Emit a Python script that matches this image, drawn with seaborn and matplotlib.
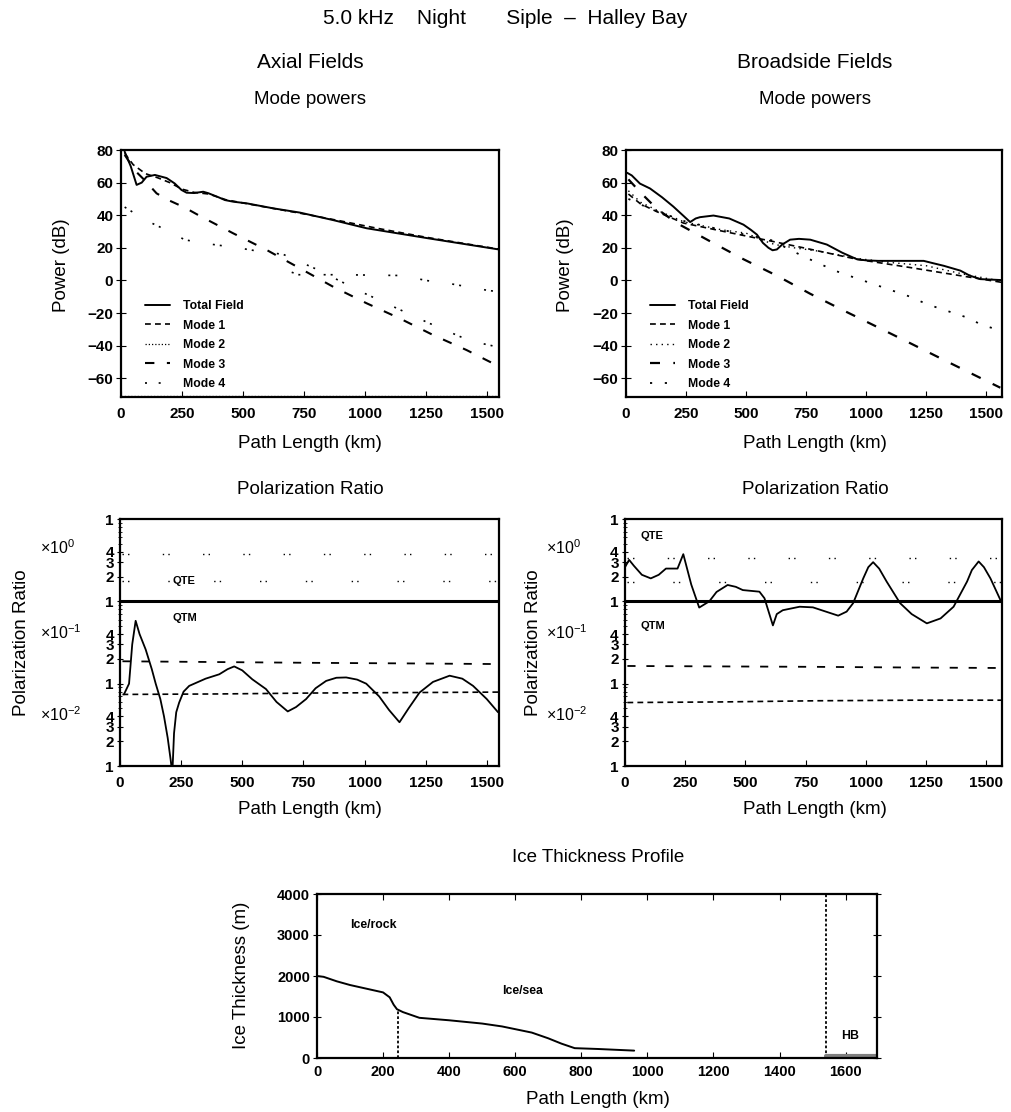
import matplotlib
matplotlib.use("Agg")
import matplotlib.pyplot as plt
import seaborn as sns
from matplotlib.ticker import FixedLocator, NullFormatter

# ---------------- data ----------------
# Axial mode powers (dB)
ax_tot_x = [15, 40, 64, 85, 105, 139, 187, 220, 248, 269, 300, 337, 358, 400, 426, 460, 515, 625, 734, 870, 1007, 1253, 1549]
ax_tot_y = [79, 70, 58.6, 60, 63.6, 64.7, 62.8, 59.5, 55.5, 53.8, 53.6, 54.4, 53.5, 51, 49.3, 48.3, 47.3, 44.2, 41.6, 37, 32, 26, 19]
ax_m1_x = [15, 50, 100, 150, 200, 250, 300, 360, 430, 500, 600, 750, 900, 1050, 1250, 1549]
ax_m1_y = [78, 71, 65.5, 63, 60, 56, 54, 53, 49.5, 47.5, 44.8, 40.8, 36.5, 32, 26.5, 19.2]
ax_m2_x = [0, 400, 800, 1200, 1550]
ax_m2_y = [-70.8, -70.8, -70.8, -70.8, -70.8]
ax_m3_x = [15, 60, 100, 146, 194, 260, 324, 460, 597, 734, 870, 1007, 1143, 1280, 1417, 1540]
ax_m3_y = [77, 67, 61, 53.4, 49.3, 44.8, 39.5, 28.9, 18.7, 7.4, -3.9, -14, -23.3, -33.5, -42.7, -52]
ax_m4a_x = [15, 100, 213, 260, 330, 480, 560, 665, 800, 1000, 1260, 1430, 1550]
ax_m4a_y = [45, 37, 29, 25, 23, 20, 18, 16, 7, -8, -26, -37, -41]
ax_m4b_x = [700, 730, 900, 1156, 1250, 1350, 1500, 1550]
ax_m4b_y = [5, 3.5, 3.5, 3, 0, -2, -6, -7]

# Broadside mode powers (dB)
bs_tot_x = [5, 24, 58, 100, 150, 197, 240, 267, 290, 308, 364, 430, 489, 520, 545, 570, 593, 610, 628, 650, 683, 720, 767, 836, 900, 961, 1000, 1050, 1150, 1239, 1280, 1322, 1392, 1430, 1475, 1565]
bs_tot_y = [66, 64.4, 59.4, 56.4, 51, 45.3, 39.5, 35.8, 38, 38.8, 39.8, 38, 34.2, 31, 28.1, 23, 20, 18.5, 19, 22, 25, 25.5, 25, 22, 17, 13, 12.3, 12, 12, 12, 10.5, 9, 6, 3, 0.8, 0.2]
bs_m1_x = [10, 60, 128, 239, 405, 572, 739, 961, 1183, 1392, 1565]
bs_m1_y = [53, 47, 42.2, 35.2, 30.1, 25.1, 20, 13, 7.9, 2.9, -1.2]
bs_m2_x = [10, 60, 130, 240, 400, 500, 580, 620, 700, 800, 961, 1100, 1250, 1400, 1565]
bs_m2_y = [55, 48, 43, 36, 31, 29, 24, 22, 20, 18, 13.5, 11, 9, 4, -0.5]
bs_m3_x = [10, 60, 128, 211, 350, 489, 628, 767, 905, 1045, 1183, 1322, 1461, 1558]
bs_m3_y = [62, 54, 44, 35.2, 24, 13, 2.9, -8.2, -18.4, -28.5, -38.5, -48.7, -58.8, -65.8]
bs_m4_x = [10, 100, 250, 400, 600, 740, 871, 940, 1045, 1183, 1253, 1433, 1475, 1565]
bs_m4_y = [50, 44, 36, 31, 25, 14.6, 5.9, 2.3, -3, -10, -14.6, -23.4, -27, -31]

# Axial polarization ratio
ap_tot_x = [16, 37, 50, 64, 80, 105, 130, 146, 165, 180, 195, 207, 214, 221, 230, 242, 260, 283, 350, 406, 440, 467, 500, 541, 597, 640, 686, 720, 761, 800, 843, 885, 925, 970, 1007, 1060, 1100, 1143, 1180, 1225, 1280, 1348, 1400, 1444, 1500, 1546]
ap_tot_y = [0.074, 0.10, 0.3, 0.58, 0.4, 0.26, 0.15, 0.10, 0.065, 0.04, 0.022, 0.012, 0.008, 0.025, 0.045, 0.059, 0.08, 0.094, 0.115, 0.13, 0.15, 0.162, 0.145, 0.113, 0.086, 0.06, 0.046, 0.052, 0.065, 0.088, 0.108, 0.118, 0.119, 0.112, 0.10, 0.07, 0.048, 0.034, 0.05, 0.078, 0.105, 0.125, 0.115, 0.094, 0.065, 0.045]
ap_d1_x = [10, 400, 800, 1200, 1550]
ap_d1_y = [0.187, 0.183, 0.179, 0.176, 0.173]
ap_d2_x = [10, 400, 800, 1200, 1550]
ap_d2_y = [0.074, 0.075, 0.077, 0.078, 0.079]
ap_q1_x = [10, 1550]
ap_q1_y = [3.8, 3.8]
ap_q2_x = [10, 1550]
ap_q2_y = [1.78, 1.78]

# Broadside polarization ratio
bp_tot_x = [0, 17, 37, 70, 107, 140, 170, 218, 242, 275, 308, 350, 380, 426, 460, 489, 558, 579, 614, 630, 655, 725, 780, 885, 920, 947, 989, 1010, 1030, 1055, 1086, 1142, 1190, 1253, 1310, 1364, 1420, 1440, 1468, 1490, 1517, 1561]
bp_tot_y = [2.6, 3.19, 2.7, 2.1, 1.9, 2.1, 2.5, 2.5, 3.74, 1.6, 0.84, 1.0, 1.3, 1.58, 1.5, 1.37, 1.31, 1.09, 0.51, 0.7, 0.78, 0.86, 0.845, 0.67, 0.75, 0.95, 1.9, 2.6, 2.99, 2.5, 1.74, 0.95, 0.7, 0.54, 0.62, 0.86, 1.74, 2.4, 3.05, 2.6, 1.9, 1.0]
bp_d1_x = [10, 400, 800, 1200, 1565]
bp_d1_y = [0.164, 0.162, 0.16, 0.157, 0.155]
bp_d2_x = [10, 400, 800, 1200, 1565]
bp_d2_y = [0.059, 0.060, 0.062, 0.063, 0.063]
bp_q1_x = [10, 1565]
bp_q1_y = [3.4, 3.4]
bp_q2_x = [10, 1565]
bp_q2_y = [1.7, 1.7]

# Ice thickness profile (m)
ice_x = [0, 20, 60, 100, 150, 200, 220, 232, 242, 260, 310, 400, 500, 560, 650, 700, 740, 780, 850, 960]
ice_y = [2000, 1980, 1870, 1780, 1690, 1600, 1480, 1300, 1190, 1120, 980, 920, 840, 770, 620, 480, 350, 240, 220, 180]
gl_x = [245, 245]
gl_y = [0, 1180]
hb_x = [1540, 1540]
hb_y = [0, 4000]
hbsea_x = [1540, 1700]
hbsea_y = [40, 40]
shelf_x = [380, 660]
shelf_y = [8, 8]

xt_power = [0, 250, 500, 750, 1000, 1250, 1500]
yt_power = [-60, -40, -20, 0, 20, 40, 60, 80]
pol_major = [0.01, 0.02, 0.03, 0.04, 0.1, 0.2, 0.3, 0.4, 1, 2, 3, 4, 10]
pol_labels = ["1", "2", "3", "4", "1", "2", "3", "4", "1", "2", "3", "4", "1"]
xt_ice = [0, 200, 400, 600, 800, 1000, 1200, 1400, 1600]
yt_ice = [0, 1000, 2000, 3000, 4000]

# ---------------- style ----------------
sns.set_style("ticks")
plt.rcParams["font.family"] = ["Liberation Sans", "DejaVu Sans"]
plt.rcParams["mathtext.fontset"] = "custom"
plt.rcParams["mathtext.rm"] = "Liberation Sans"
plt.rcParams["axes.linewidth"] = 1.6
for k in ["text.color", "axes.labelcolor", "xtick.color", "ytick.color", "axes.edgecolor"]:
    plt.rcParams[k] = "black"

W, H = 1011, 1112
fig = plt.figure(figsize=(W / 100, H / 100), dpi=100)


def px_axes(l, t, r, b):
    return fig.add_axes([l / W, 1 - b / H, (r - l) / W, (b - t) / H])


S_TOT = "-"
S_M1 = (0, (3.5, 2.5))
S_M2 = (0, (1, 1.6))
S_M3 = (0, (4.5, 6))
S_M4 = (0, (1.2, 7))
S_SPARSE = (0, (1, 3, 1, 16))


def line(ax, x, y, style, lw, label=None, color="black"):
    kw = dict(x=x, y=y, ax=ax, color=color, linestyle=style, linewidth=lw,
              estimator=None, sort=False)
    if label is not None:
        kw["label"] = label
    sns.lineplot(**kw)


def bold_ticks(ax):
    for t in ax.get_xticklabels() + ax.get_yticklabels():
        t.set_fontweight("bold")


def style_power(ax, xmax):
    ax.set_xlim(0, xmax)
    ax.set_ylim(-71.5, 80)
    ax.set_xticks(xt_power)
    ax.set_xticklabels([str(v) for v in xt_power])
    ax.set_yticks(yt_power)
    ax.set_yticklabels([str(v).replace("-", "\u2212") for v in yt_power])
    ax.tick_params(axis="x", direction="in", length=4, labelsize=11, pad=7)
    ax.tick_params(axis="y", direction="inout", length=7, labelsize=11, pad=2)
    ax.set_xlabel("")
    ax.set_ylabel("")
    bold_ticks(ax)
    for s in ax.spines.values():
        s.set_visible(True)


def legend(ax, handles_order):
    h, l = ax.get_legend_handles_labels()
    pairs = dict(zip(l, h))
    leg = ax.legend([pairs[k] for k in handles_order], handles_order,
                    loc="lower left", bbox_to_anchor=(0.045, 0.0), frameon=False,
                    prop={"weight": "bold", "size": 8.8}, handlelength=2.1,
                    handletextpad=1.0, labelspacing=0.62, borderaxespad=0.15)
    for hh in leg.get_lines():
        hh.set_color("black")


LEG = ["Total Field", "Mode 1", "Mode 2", "Mode 3", "Mode 4"]

# ---------- Axial mode powers ----------
a1 = px_axes(121, 150, 499, 397)
line(a1, ax_tot_x, ax_tot_y, S_TOT, 1.4, "Total Field")
line(a1, ax_m1_x, ax_m1_y, S_M1, 1.2, "Mode 1")
line(a1, ax_m2_x, ax_m2_y, S_M2, 0.9, "Mode 2")
line(a1, ax_m3_x, ax_m3_y, S_M3, 1.5, "Mode 3")
line(a1, ax_m4a_x, ax_m4a_y, (0, (1.2, 3, 1.2, 14)), 1.2, "Mode 4")
line(a1, ax_m4b_x, ax_m4b_y, (0, (1.2, 3, 1.2, 14)), 1.2)
style_power(a1, 1550)
legend(a1, LEG)
a1.get_legend().get_lines()[4].set_linestyle(S_M4)

# ---------- Broadside mode powers ----------
a2 = px_axes(626, 150, 1002, 397)
line(a2, bs_tot_x, bs_tot_y, S_TOT, 1.4, "Total Field")
line(a2, bs_m1_x, bs_m1_y, S_M1, 1.2, "Mode 1")
line(a2, bs_m2_x, bs_m2_y, (0, (1, 3)), 1.0, "Mode 2")
line(a2, bs_m3_x, bs_m3_y, S_M3, 1.6, "Mode 3")
line(a2, bs_m4_x, bs_m4_y, S_M4, 1.3, "Mode 4")
style_power(a2, 1565)
legend(a2, LEG)


def style_pol(ax, xmax):
    ax.set_yscale("log")
    ax.set_xlim(0, xmax)
    ax.set_ylim(0.01, 10)
    ax.set_xticks(xt_power)
    ax.set_xticklabels([str(v) for v in xt_power])
    ax.yaxis.set_major_locator(FixedLocator(pol_major))
    ax.set_yticklabels(pol_labels)
    minors = []
    for d in [0.01, 0.1, 1]:
        minors += [d * k for k in [5, 6, 7, 8, 9]]
    ax.yaxis.set_minor_locator(FixedLocator(minors))
    ax.yaxis.set_minor_formatter(NullFormatter())
    ax.tick_params(axis="x", direction="in", length=4, labelsize=11, pad=7)
    ax.tick_params(axis="y", which="major", direction="inout", length=5, labelsize=11, pad=2)
    ax.tick_params(axis="y", which="minor", direction="inout", length=3)
    ax.set_xlabel("")
    ax.set_ylabel("")
    bold_ticks(ax)
    if ax.get_legend() is not None:
        ax.get_legend().remove()
    for s in ax.spines.values():
        s.set_visible(True)


# ---------- Axial polarization ----------
p1 = px_axes(120, 519, 499, 766)
line(p1, [0, 1550], [1, 1], S_TOT, 2.2)
line(p1, ap_tot_x, ap_tot_y, S_TOT, 1.3)
line(p1, ap_d1_x, ap_d1_y, S_M3, 1.3)
line(p1, ap_d2_x, ap_d2_y, S_M1, 1.2)
line(p1, ap_q1_x, ap_q1_y, (0, (1, 3, 1, 24)), 1.0)
line(p1, ap_q2_x, ap_q2_y, (0, (1, 3, 1, 28)), 1.0)
style_pol(p1, 1550)
p1.text(214, 1.78, "QTE", fontsize=8, fontweight="bold", va="center")
p1.text(214, 0.62, "QTM", fontsize=8, fontweight="bold", va="center")

# ---------- Broadside polarization ----------
p2 = px_axes(625, 519, 1002, 766)
line(p2, [0, 1565], [1, 1], S_TOT, 2.2)
line(p2, bp_tot_x, bp_tot_y, S_TOT, 1.3)
line(p2, bp_d1_x, bp_d1_y, S_M3, 1.3)
line(p2, bp_d2_x, bp_d2_y, S_M1, 1.2)
line(p2, bp_q1_x, bp_q1_y, (0, (1, 3, 1, 24)), 1.0)
line(p2, bp_q2_x, bp_q2_y, (0, (1, 3, 1, 28)), 1.0)
style_pol(p2, 1565)
p2.text(65, 6.2, "QTE", fontsize=8, fontweight="bold", va="center")
p2.text(65, 0.5, "QTM", fontsize=8, fontweight="bold", va="center")

# x10 exponent labels
for xpix in (40, 546):
    for ypix, e in ((548, "0"), (633, "-1"), (715, "-2")):
        fig.text(xpix / W, 1 - ypix / H, r"$\times10^{%s}$" % e.replace("-", "\u2212"),
                 fontsize=11.5, va="center", ha="left")

# ---------- Ice thickness ----------
a3 = px_axes(317, 894, 877, 1058)
line(a3, ice_x, ice_y, S_TOT, 1.4)
line(a3, gl_x, gl_y, (0, (1.5, 1.2)), 1.3)
line(a3, hb_x, hb_y, (0, (1.5, 1.2)), 1.3)
line(a3, hbsea_x, hbsea_y, S_TOT, 3.0, color="0.5")
line(a3, shelf_x, shelf_y, S_TOT, 2.0)
a3.set_xlim(0, 1695)
a3.set_ylim(0, 4000)
a3.set_xticks(xt_ice)
a3.set_xticklabels([str(v) for v in xt_ice])
a3.set_yticks(yt_ice)
a3.set_yticklabels([str(v) for v in yt_ice])
a3.tick_params(axis="x", direction="in", length=4, labelsize=10.5, pad=5, top=True)
a3.tick_params(axis="y", direction="inout", length=6, labelsize=10.5, pad=2, right=True)
a3.set_xlabel("")
a3.set_ylabel("")
bold_ticks(a3)
if a3.get_legend() is not None:
    a3.get_legend().remove()
a3.text(100, 3250, "Ice/rock", fontsize=8.8, fontweight="bold", va="center")
a3.text(560, 1630, "Ice/sea", fontsize=8.8, fontweight="bold", va="center")
a3.text(1585, 540, "HB", fontsize=8.8, fontweight="bold", va="center")


# ---------- figure texts ----------
def ftext(x, y, s, size, **kw):
    fig.text(x / W, 1 - y / H, s, fontsize=size, ha="center", va="center", **kw)


ftext(505, 18, "5.0 kHz    Night       Siple  \u2013  Halley Bay", 15)
ftext(310, 62, "Axial Fields", 15)
ftext(815, 62, "Broadside Fields", 15)
ftext(310, 100, "Mode powers", 13.5)
ftext(815, 100, "Mode powers", 13.5)
ftext(310, 443, "Path Length (km)", 13.5)
ftext(815, 443, "Path Length (km)", 13.5)
ftext(310, 490, "Polarization Ratio", 13.5)
ftext(815, 490, "Polarization Ratio", 13.5)
ftext(310, 810, "Path Length (km)", 13.5)
ftext(815, 810, "Path Length (km)", 13.5)
ftext(598, 858, "Ice Thickness Profile", 13.5)
ftext(598, 1100, "Path Length (km)", 13.5)
ftext(61, 265, "Power (dB)", 13.5, rotation=90)
ftext(566, 265, "Power (dB)", 13.5, rotation=90)
ftext(22, 643, "Polarization Ratio", 13.5, rotation=90)
ftext(533, 643, "Polarization Ratio", 13.5, rotation=90)
ftext(242, 975, "Ice Thickness (m)", 13.5, rotation=90)

fig.savefig("out.png", dpi=100)
